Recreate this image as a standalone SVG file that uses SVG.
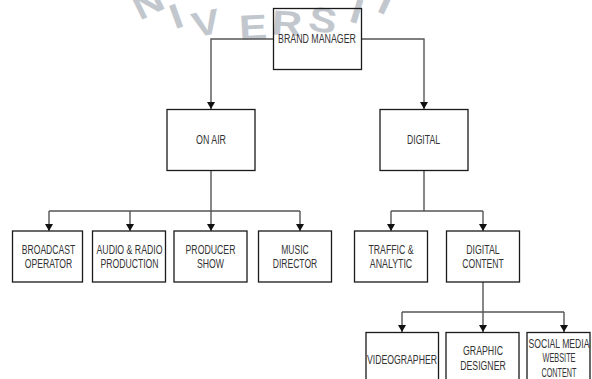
<svg xmlns="http://www.w3.org/2000/svg" width="592" height="379" viewBox="0 0 592 379">
<style>
.wm{font-family:"Liberation Sans",Arial,sans-serif;font-size:35px;font-weight:bold;fill:#c2c7ce;text-anchor:middle;dominant-baseline:central}
.box{fill:none;stroke:#1a1a1a;stroke-width:1.3}
.t{font-family:"Liberation Sans",Arial,sans-serif;font-size:12px;fill:#333;text-anchor:middle}
.c{fill:none;stroke:#555;stroke-width:1.4}
</style>
<defs>
<marker id="ah" markerWidth="8" markerHeight="8" refX="7" refY="4" orient="auto" markerUnits="userSpaceOnUse">
<path d="M0,0 L7,4 L0,8 Z" fill="#111"/>
</marker>
</defs>
<rect width="592" height="379" fill="#fff"/>
<g id="watermark">
<text class="wm" transform="translate(148,3) rotate(-26) scale(1.2,1)">N</text>
<text class="wm" transform="translate(176,16) rotate(-20) scale(1.2,1)">I</text>
<text class="wm" transform="translate(206,23) rotate(-12) scale(1.2,1)">V</text>
<text class="wm" transform="translate(253,27) rotate(-3) scale(1.2,1)">E</text>
<text class="wm" transform="translate(287,23) rotate(4) scale(1.2,1)">R</text>
<text class="wm" transform="translate(323,20) rotate(10) scale(1.2,1)">S</text>
<text class="wm" transform="translate(357,11) rotate(17) scale(1.2,1)">I</text>
<text class="wm" transform="translate(386,2) rotate(25) scale(1.2,1)">T</text>
</g>
<g id="connectors">
<path class="c" d="M273,39 H211 V109" marker-end="url(#ah)"/>
<path class="c" d="M362,39 H424 V109" marker-end="url(#ah)"/>
<path class="c" d="M211,170 V211 M49,211 H300"/>
<path class="c" d="M49,211 V231" marker-end="url(#ah)"/>
<path class="c" d="M130,211 V231" marker-end="url(#ah)"/>
<path class="c" d="M211,211 V231" marker-end="url(#ah)"/>
<path class="c" d="M300,211 V231" marker-end="url(#ah)"/>
<path class="c" d="M424,170 V211 M391,211 H483"/>
<path class="c" d="M391,211 V231" marker-end="url(#ah)"/>
<path class="c" d="M483,211 V231" marker-end="url(#ah)"/>
<path class="c" d="M483,282 V312 M402,312 H564"/>
<path class="c" d="M402,312 V332" marker-end="url(#ah)"/>
<path class="c" d="M483,312 V332" marker-end="url(#ah)"/>
<path class="c" d="M564,312 V332" marker-end="url(#ah)"/>
</g>
<g id="brand-manager">
<rect class="box" x="273.5" y="8.5" width="88" height="61"/>
<text class="t" x="317" y="42.5" textLength="78" lengthAdjust="spacingAndGlyphs">BRAND MANAGER</text>
</g>
<g id="on-air">
<rect class="box" x="167" y="109.5" width="88" height="61"/>
<text class="t" x="211" y="144" textLength="30" lengthAdjust="spacingAndGlyphs">ON AIR</text>
</g>
<g id="digital">
<rect class="box" x="380" y="109.5" width="88" height="61"/>
<text class="t" x="423.5" y="144" textLength="33" lengthAdjust="spacingAndGlyphs">DIGITAL</text>
</g>
<g id="broadcast-operator">
<rect class="box" x="12.5" y="231" width="70" height="51"/>
<text class="t" x="48.5" y="254" textLength="53.5" lengthAdjust="spacingAndGlyphs">BROADCAST</text>
<text class="t" x="48.5" y="268" textLength="47.5" lengthAdjust="spacingAndGlyphs">OPERATOR</text>
</g>
<g id="audio-radio-production">
<rect class="box" x="92.5" y="231" width="73" height="51"/>
<text class="t" x="129.5" y="254" textLength="66" lengthAdjust="spacingAndGlyphs">AUDIO &amp; RADIO</text>
<text class="t" x="129.5" y="268" textLength="58" lengthAdjust="spacingAndGlyphs">PRODUCTION</text>
</g>
<g id="producer-show">
<rect class="box" x="174" y="231" width="73" height="51"/>
<text class="t" x="210.5" y="254" textLength="50" lengthAdjust="spacingAndGlyphs">PRODUCER</text>
<text class="t" x="210.5" y="268" textLength="27" lengthAdjust="spacingAndGlyphs">SHOW</text>
</g>
<g id="music-director">
<rect class="box" x="258.5" y="231" width="73" height="51"/>
<text class="t" x="295" y="254" textLength="27.5" lengthAdjust="spacingAndGlyphs">MUSIC</text>
<text class="t" x="295" y="268" textLength="44.5" lengthAdjust="spacingAndGlyphs">DIRECTOR</text>
</g>
<g id="traffic-analytic">
<rect class="box" x="354.5" y="231" width="73" height="51"/>
<text class="t" x="391" y="254" textLength="45" lengthAdjust="spacingAndGlyphs">TRAFFIC &amp;</text>
<text class="t" x="391" y="268" textLength="42.5" lengthAdjust="spacingAndGlyphs">ANALYTIC</text>
</g>
<g id="digital-content">
<rect class="box" x="446.5" y="231" width="73" height="51"/>
<text class="t" x="483" y="254" textLength="33.5" lengthAdjust="spacingAndGlyphs">DIGITAL</text>
<text class="t" x="483" y="268" textLength="41.5" lengthAdjust="spacingAndGlyphs">CONTENT</text>
</g>
<g id="videographer">
<rect class="box" x="366" y="332.5" width="72.5" height="61"/>
<text class="t" x="402" y="364" textLength="70" lengthAdjust="spacingAndGlyphs">VIDEOGRAPHER</text>
</g>
<g id="graphic-designer">
<rect class="box" x="446" y="332.5" width="73" height="61"/>
<text class="t" x="483" y="355" textLength="40" lengthAdjust="spacingAndGlyphs">GRAPHIC</text>
<text class="t" x="483" y="369.5" textLength="45.5" lengthAdjust="spacingAndGlyphs">DESIGNER</text>
</g>
<g id="social-media-website-content">
<rect class="box" x="527" y="332.5" width="63" height="61"/>
<text class="t" x="559" y="347.5" textLength="61" lengthAdjust="spacingAndGlyphs">SOCIAL MEDIA</text>
<text class="t" x="559" y="362" textLength="33" lengthAdjust="spacingAndGlyphs">WEBSITE</text>
<text class="t" x="559" y="376.5" textLength="35" lengthAdjust="spacingAndGlyphs">CONTENT</text>
</g>
</svg>
